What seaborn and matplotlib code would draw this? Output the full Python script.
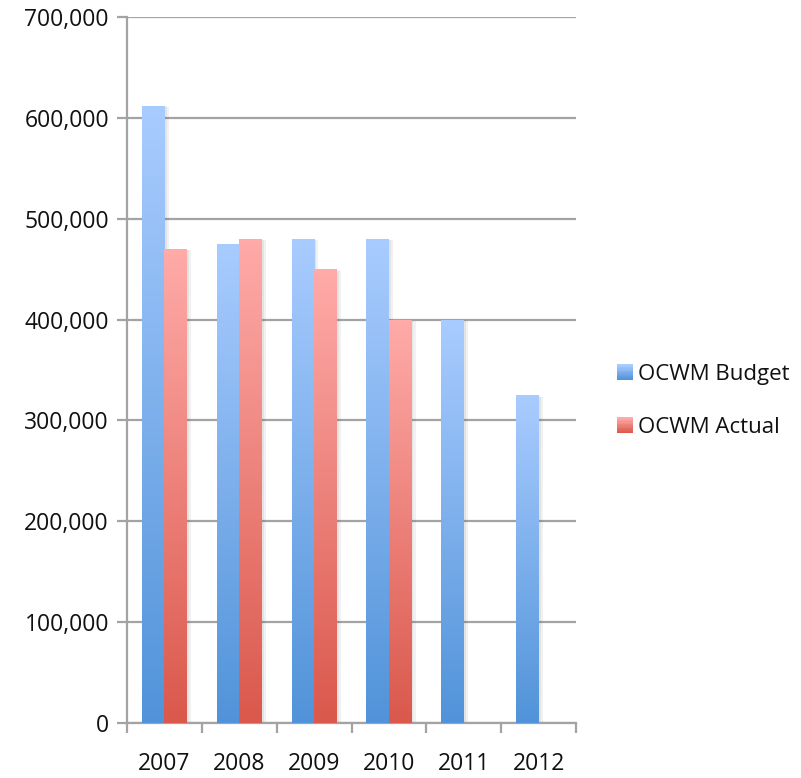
import numpy as np
import pandas as pd
import matplotlib
matplotlib.use("Agg")
import matplotlib.pyplot as plt
import seaborn as sns
from matplotlib.colors import LinearSegmentedColormap
from matplotlib.patches import Rectangle
from matplotlib.legend_handler import HandlerBase
import matplotlib.patheffects as pe
from matplotlib.ticker import FuncFormatter, FixedLocator

years = ["2007", "2008", "2009", "2010", "2011", "2012"]
budget = [612000, 475000, 480000, 480000, 400000, 325000]
actual = [470000, 480000, 450000, 400000, np.nan, np.nan]
series_names = ["OCWM Budget", "OCWM Actual"]
y_ticks = [0, 100000, 200000, 300000, 400000, 500000, 600000, 700000]

top_colors = {"OCWM Budget": "#A9CCFF", "OCWM Actual": "#FFABA9"}
bot_colors = {"OCWM Budget": "#5193D9", "OCWM Actual": "#DA584C"}

df = pd.DataFrame({
    "Year": years * 2,
    "Value": budget + actual,
    "Series": [series_names[0]] * len(years) + [series_names[1]] * len(years),
})

sns.set_style("white")
plt.rcParams["font.family"] = ["Open Sans", "DejaVu Sans"]

fig = plt.figure(figsize=(8.01, 7.78), dpi=100)
ax = fig.add_axes([127 / 801, 1 - 723 / 778, (576 - 127) / 801, (723 - 17) / 778])

sns.barplot(data=df, x="Year", y="Value", hue="Series", order=years,
            hue_order=series_names, width=0.6, gap=0, ax=ax, legend=False,
            palette={k: bot_colors[k] for k in series_names}, linewidth=0,
            errorbar=None, saturation=1)

ax.set_ylim(0, 700000)
ax.set_xlim(-0.5, len(years) - 0.5)

# gradient fill for each bar
for i, cont in enumerate(ax.containers):
    name = series_names[i]
    cmap = LinearSegmentedColormap.from_list(name, [bot_colors[name], top_colors[name]])
    grad = np.linspace(0, 1, 256).reshape(-1, 1)
    for bar in cont.patches:
        h = bar.get_height()
        if not np.isfinite(h) or h <= 0:
            continue
        x0 = bar.get_x()
        w = bar.get_width()
        bar.set_path_effects([
            pe.SimplePatchShadow(offset=(3, -1), alpha=0.07, shadow_rgbFace="#444444"),
            pe.SimplePatchShadow(offset=(1.5, -0.5), alpha=0.08, shadow_rgbFace="#444444"),
            pe.Normal()])
        bar.set_zorder(2)
        im = ax.imshow(grad, extent=[x0, x0 + w, 0, h], origin="lower", aspect="auto",
                       cmap=cmap, zorder=3, interpolation="bilinear")
        im.set_clip_path(bar)
ax.set_aspect("auto")
ax.set_xlim(-0.5, len(years) - 0.5)
ax.set_ylim(0, 700000)

# grid and spines
ax.set_yticks(y_ticks)
ax.yaxis.set_major_formatter(FuncFormatter(lambda v, p: f"{int(v):,}"))
ax.grid(axis="y", color="#A3A3A3", linewidth=1.6, zorder=0)
ax.set_axisbelow(True)
for s in ["top", "right"]:
    ax.spines[s].set_visible(False)
for s in ["left", "bottom"]:
    ax.spines[s].set_color("#A3A3A3")
    ax.spines[s].set_linewidth(1.6)

ax.tick_params(axis="y", which="major", length=7, width=1.6, color="#A3A3A3",
               labelsize=16.5, labelcolor="#111111", pad=6, left=True, direction="out")
ax.tick_params(axis="x", which="major", length=0, labelsize=16.5, labelcolor="#111111", pad=21)
ax.xaxis.set_minor_locator(FixedLocator(np.arange(-0.5, len(years), 1.0)))
ax.tick_params(axis="x", which="minor", length=7, width=1.6, color="#A3A3A3", bottom=True, direction="out")
ax.set_xlabel("")
ax.set_ylabel("")


class GradHandler(HandlerBase):
    def __init__(self, top, bot, n=12):
        super().__init__()
        self.top, self.bot, self.n = top, bot, n

    def create_artists(self, legend, orig_handle, xdescent, ydescent, width, height, fontsize, trans):
        cmap = LinearSegmentedColormap.from_list("g", [self.bot, self.top])
        size = height * 1.0
        x0 = -xdescent + (width - size)
        y0 = -ydescent + (height - size) / 2
        arts = []
        for k in range(self.n):
            r = Rectangle((x0, y0 + size * k / self.n), size, size / self.n + 0.3,
                          facecolor=cmap(k / (self.n - 1)), edgecolor="none", transform=trans)
            arts.append(r)
        return arts


handles = [Rectangle((0, 0), 1, 1) for _ in series_names]
handler_map = {h: GradHandler(top_colors[n], bot_colors[n]) for h, n in zip(handles, series_names)}
fig.legend(handles, series_names, handler_map=handler_map, loc="center left",
           bbox_to_anchor=(596 / 801, 1 - 401 / 778), frameon=False, fontsize=16,
           labelspacing=1.45, handlelength=0.75, handletextpad=0.25, labelcolor="#111111")

fig.savefig("out.png", dpi=100)
